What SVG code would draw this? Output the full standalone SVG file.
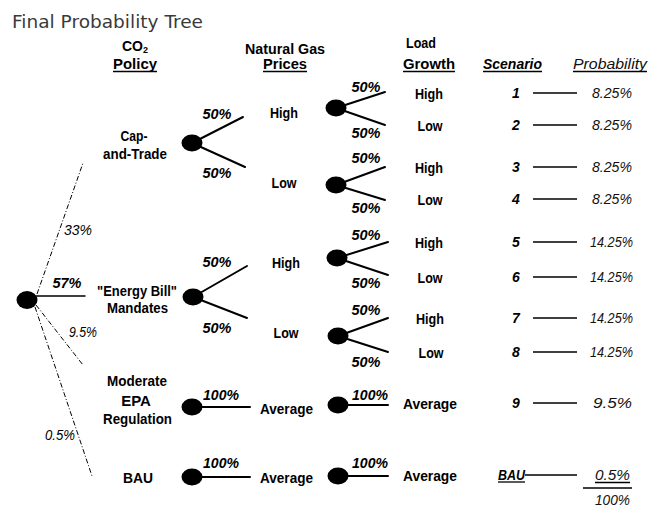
<svg xmlns="http://www.w3.org/2000/svg" width="656" height="508" viewBox="0 0 656 508">
  <style>
    text { font-family: "Liberation Sans", Arial, sans-serif; fill: #000; text-anchor: middle; }
    .lbl { font-weight: bold; font-size: 15px; }
    .hdr { font-weight: bold; font-size: 14px; }
    .pct { font-weight: bold; font-style: italic; font-size: 14px; }
    .pctl { font-style: italic; font-size: 14px; }
    .num { font-weight: bold; font-style: italic; font-size: 14px; }
    .prob { font-style: italic; font-size: 14px; fill: #111; }
    .title { font-family: "DejaVu Sans", Verdana, sans-serif; font-size: 17px; fill: #3a3a3a; text-anchor: start; }
    .node { fill: #000; }
    .br { stroke: #000; stroke-width: 2; fill: none; stroke-linecap: round; }
    .dash { stroke: #000; stroke-width: 1; fill: none; stroke-dasharray: 5 2 1 2; }
    .sc { stroke: #000; stroke-width: 1.5; }
    .ul { stroke: #000; stroke-width: 1.3; }
  </style>

  <text class="title" x="12" y="28" textLength="191" lengthAdjust="spacingAndGlyphs">Final Probability Tree</text>

  <!-- column headers -->
  <g id="headers">
    <text class="hdr" x="135" y="51">CO<tspan font-size="9" dy="1.5">2</tspan></text>
    <text class="hdr" x="135" y="68.5" textLength="44" lengthAdjust="spacingAndGlyphs">Policy</text>
    <line class="ul" x1="113" y1="71.5" x2="157" y2="71.5"/>
    <text class="hdr" x="285" y="54" textLength="80" lengthAdjust="spacingAndGlyphs">Natural Gas</text>
    <text class="hdr" x="285" y="68.5" textLength="44" lengthAdjust="spacingAndGlyphs">Prices</text>
    <line class="ul" x1="263" y1="71.5" x2="307" y2="71.5"/>
    <text class="hdr" x="421" y="47.5" textLength="30" lengthAdjust="spacingAndGlyphs">Load</text>
    <text class="hdr" x="429" y="68.5" textLength="52" lengthAdjust="spacingAndGlyphs">Growth</text>
    <line class="ul" x1="403" y1="71.5" x2="455" y2="71.5"/>
    <text class="num" x="512.5" y="68.5" textLength="59" lengthAdjust="spacingAndGlyphs">Scenario</text>
    <line class="ul" x1="483" y1="71.5" x2="542" y2="71.5"/>
    <text class="prob" x="610" y="68.5" textLength="74" lengthAdjust="spacingAndGlyphs">Probability</text>
    <line class="ul" x1="573" y1="71.5" x2="647" y2="71.5"/>
  </g>

  <!-- branches -->
  <g id="connectors">
    <line class="dash" x1="37" y1="294" x2="83" y2="163"/>
    <line class="br" x1="36" y1="296" x2="85" y2="296" style="stroke-width:1.5"/>
    <line class="dash" x1="36" y1="305" x2="83" y2="365"/>
    <line class="dash" x1="35" y1="307" x2="92" y2="476"/>

    <line class="br" x1="192" y1="143" x2="243" y2="117"/>
    <line class="br" x1="192" y1="143" x2="245" y2="167"/>
    <line class="br" x1="193" y1="297" x2="247" y2="266"/>
    <line class="br" x1="193" y1="297" x2="247" y2="318"/>
    <line class="br" x1="192" y1="407" x2="250" y2="407"/>
    <line class="br" x1="192" y1="477" x2="250" y2="477"/>

    <line class="br" x1="336" y1="108" x2="385" y2="92"/>
    <line class="br" x1="336" y1="108" x2="385" y2="125"/>
    <line class="br" x1="336" y1="185" x2="385" y2="167"/>
    <line class="br" x1="336" y1="185" x2="385" y2="200"/>
    <line class="br" x1="337" y1="258" x2="388" y2="242"/>
    <line class="br" x1="337" y1="258" x2="388" y2="275"/>
    <line class="br" x1="338" y1="336" x2="388" y2="318"/>
    <line class="br" x1="338" y1="336" x2="388" y2="352"/>
    <line class="br" x1="338" y1="405" x2="388" y2="405"/>
    <line class="br" x1="338" y1="476" x2="388" y2="476"/>

    <line class="sc" x1="533" y1="93" x2="577" y2="93"/>
    <line class="sc" x1="533" y1="125" x2="577" y2="125"/>
    <line class="sc" x1="533" y1="167" x2="577" y2="167"/>
    <line class="sc" x1="533" y1="199" x2="577" y2="199"/>
    <line class="sc" x1="533" y1="242" x2="577" y2="242"/>
    <line class="sc" x1="533" y1="277" x2="577" y2="277"/>
    <line class="sc" x1="533" y1="318" x2="577" y2="318"/>
    <line class="sc" x1="533" y1="352" x2="577" y2="352"/>
    <line class="sc" x1="533" y1="403" x2="577" y2="403"/>
    <line class="sc" x1="525" y1="475" x2="577" y2="475"/>
  </g>

  <!-- root -->
  <g id="root">
    <ellipse class="node" cx="27" cy="300" rx="10.5" ry="9"/>
    <text class="pctl" x="78" y="235" textLength="28" lengthAdjust="spacingAndGlyphs">33%</text>
    <text class="pct" x="67" y="288" textLength="29" lengthAdjust="spacingAndGlyphs">57%</text>
    <text class="pctl" x="83" y="337" textLength="28" lengthAdjust="spacingAndGlyphs">9.5%</text>
    <text class="pctl" x="60" y="440" textLength="30" lengthAdjust="spacingAndGlyphs">0.5%</text>
  </g>

  <!-- CO2 policy nodes -->
  <g id="cap-and-trade">
    <text class="lbl" x="134" y="140.5" textLength="27" lengthAdjust="spacingAndGlyphs">Cap-</text>
    <text class="lbl" x="135" y="158.5" textLength="64" lengthAdjust="spacingAndGlyphs">and-Trade</text>
    <ellipse class="node" cx="192" cy="143" rx="10.5" ry="8.5"/>
    <text class="pct" x="217" y="119" textLength="29" lengthAdjust="spacingAndGlyphs">50%</text>
    <text class="pct" x="217" y="178" textLength="29" lengthAdjust="spacingAndGlyphs">50%</text>
    <text class="lbl" x="284" y="117.5" textLength="28" lengthAdjust="spacingAndGlyphs">High</text>
    <text class="lbl" x="284" y="187.5" textLength="25" lengthAdjust="spacingAndGlyphs">Low</text>
  </g>

  <g id="energy-bill">
    <text class="lbl" x="137" y="295.5" textLength="80" lengthAdjust="spacingAndGlyphs">"Energy Bill"</text>
    <text class="lbl" x="137.5" y="312.5" textLength="61" lengthAdjust="spacingAndGlyphs">Mandates</text>
    <ellipse class="node" cx="193" cy="297" rx="10.5" ry="8.5"/>
    <text class="pct" x="217" y="267" textLength="29" lengthAdjust="spacingAndGlyphs">50%</text>
    <text class="pct" x="217" y="333" textLength="29" lengthAdjust="spacingAndGlyphs">50%</text>
    <text class="lbl" x="286" y="267.5" textLength="28" lengthAdjust="spacingAndGlyphs">High</text>
    <text class="lbl" x="286" y="337.5" textLength="25" lengthAdjust="spacingAndGlyphs">Low</text>
  </g>

  <g id="moderate-epa">
    <text class="lbl" x="137" y="385.5" textLength="60" lengthAdjust="spacingAndGlyphs">Moderate</text>
    <text class="lbl" x="136" y="405.5">EPA</text>
    <text class="lbl" x="137.5" y="423.5" textLength="69" lengthAdjust="spacingAndGlyphs">Regulation</text>
    <ellipse class="node" cx="192" cy="407" rx="10.5" ry="8.5"/>
    <text class="pct" x="221" y="400" textLength="36" lengthAdjust="spacingAndGlyphs">100%</text>
    <text class="lbl" x="286.5" y="413.5" textLength="53" lengthAdjust="spacingAndGlyphs">Average</text>
  </g>

  <g id="bau">
    <text class="lbl" x="138" y="482.5" textLength="30" lengthAdjust="spacingAndGlyphs">BAU</text>
    <ellipse class="node" cx="192" cy="477" rx="10.5" ry="8.5"/>
    <text class="pct" x="221" y="468" textLength="36" lengthAdjust="spacingAndGlyphs">100%</text>
    <text class="lbl" x="286.5" y="482.5" textLength="53" lengthAdjust="spacingAndGlyphs">Average</text>
  </g>

  <!-- load growth nodes -->
  <g id="load-1">
    <ellipse class="node" cx="336" cy="108" rx="10.5" ry="8.5"/>
    <text class="pct" x="366" y="92" textLength="29" lengthAdjust="spacingAndGlyphs">50%</text>
    <text class="pct" x="366" y="138" textLength="29" lengthAdjust="spacingAndGlyphs">50%</text>
    <text class="lbl" x="429" y="98.5" textLength="28" lengthAdjust="spacingAndGlyphs">High</text>
    <text class="lbl" x="430" y="130.5" textLength="25" lengthAdjust="spacingAndGlyphs">Low</text>
  </g>
  <g id="load-2">
    <ellipse class="node" cx="336" cy="185" rx="10.5" ry="8.5"/>
    <text class="pct" x="366" y="163" textLength="29" lengthAdjust="spacingAndGlyphs">50%</text>
    <text class="pct" x="366" y="213" textLength="29" lengthAdjust="spacingAndGlyphs">50%</text>
    <text class="lbl" x="429" y="172.5" textLength="28" lengthAdjust="spacingAndGlyphs">High</text>
    <text class="lbl" x="430" y="204.5" textLength="25" lengthAdjust="spacingAndGlyphs">Low</text>
  </g>
  <g id="load-3">
    <ellipse class="node" cx="337" cy="258" rx="10.5" ry="8.5"/>
    <text class="pct" x="366" y="240" textLength="29" lengthAdjust="spacingAndGlyphs">50%</text>
    <text class="pct" x="366" y="288" textLength="29" lengthAdjust="spacingAndGlyphs">50%</text>
    <text class="lbl" x="429" y="247.5" textLength="28" lengthAdjust="spacingAndGlyphs">High</text>
    <text class="lbl" x="430" y="282.5" textLength="25" lengthAdjust="spacingAndGlyphs">Low</text>
  </g>
  <g id="load-4">
    <ellipse class="node" cx="338" cy="336" rx="10.5" ry="8.5"/>
    <text class="pct" x="366" y="315" textLength="29" lengthAdjust="spacingAndGlyphs">50%</text>
    <text class="pct" x="366" y="367" textLength="29" lengthAdjust="spacingAndGlyphs">50%</text>
    <text class="lbl" x="430" y="323.5" textLength="28" lengthAdjust="spacingAndGlyphs">High</text>
    <text class="lbl" x="431" y="357.5" textLength="25" lengthAdjust="spacingAndGlyphs">Low</text>
  </g>
  <g id="load-5">
    <ellipse class="node" cx="338" cy="405" rx="10.5" ry="8.5"/>
    <text class="pct" x="370" y="400" textLength="36" lengthAdjust="spacingAndGlyphs">100%</text>
    <text class="lbl" x="430" y="408.5" textLength="54" lengthAdjust="spacingAndGlyphs">Average</text>
  </g>
  <g id="load-6">
    <ellipse class="node" cx="338" cy="476" rx="10.5" ry="8.5"/>
    <text class="pct" x="370" y="468" textLength="36" lengthAdjust="spacingAndGlyphs">100%</text>
    <text class="lbl" x="430" y="480.5" textLength="54" lengthAdjust="spacingAndGlyphs">Average</text>
  </g>

  <!-- scenarios and probabilities -->
  <g id="scenarios">
    <text class="num" x="516" y="98">1</text>
    <text class="num" x="516" y="130">2</text>
    <text class="num" x="516" y="172">3</text>
    <text class="num" x="516" y="204">4</text>
    <text class="num" x="516" y="247">5</text>
    <text class="num" x="516" y="282">6</text>
    <text class="num" x="516" y="323">7</text>
    <text class="num" x="516" y="357">8</text>
    <text class="num" x="516" y="408">9</text>
    <text class="num" x="511.5" y="480" textLength="27" lengthAdjust="spacingAndGlyphs">BAU</text>
    <line class="ul" x1="498" y1="482" x2="525" y2="482"/>
  </g>
  <g id="probabilities">
    <text class="prob" x="612" y="98" textLength="40" lengthAdjust="spacingAndGlyphs">8.25%</text>
    <text class="prob" x="612" y="130" textLength="40" lengthAdjust="spacingAndGlyphs">8.25%</text>
    <text class="prob" x="612" y="172" textLength="40" lengthAdjust="spacingAndGlyphs">8.25%</text>
    <text class="prob" x="612" y="204" textLength="40" lengthAdjust="spacingAndGlyphs">8.25%</text>
    <text class="prob" x="611.5" y="247" textLength="43" lengthAdjust="spacingAndGlyphs">14.25%</text>
    <text class="prob" x="611.5" y="282" textLength="43" lengthAdjust="spacingAndGlyphs">14.25%</text>
    <text class="prob" x="611.5" y="323" textLength="43" lengthAdjust="spacingAndGlyphs">14.25%</text>
    <text class="prob" x="611.5" y="357" textLength="43" lengthAdjust="spacingAndGlyphs">14.25%</text>
    <text class="prob" x="612.5" y="408" textLength="39" lengthAdjust="spacingAndGlyphs">9.5%</text>
    <text class="prob" x="612.5" y="480" textLength="35" lengthAdjust="spacingAndGlyphs">0.5%</text>
    <line class="ul" x1="595" y1="482.5" x2="630" y2="482.5"/>
    <line class="sc" x1="583" y1="488" x2="632" y2="488"/>
    <text class="prob" x="612.5" y="505" textLength="35" lengthAdjust="spacingAndGlyphs">100%</text>
  </g>
</svg>
